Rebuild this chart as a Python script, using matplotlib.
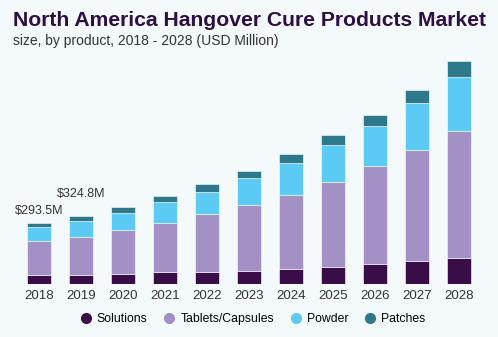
import matplotlib
matplotlib.use("Agg")
import matplotlib.pyplot as plt
from matplotlib.lines import Line2D

years = ["2018", "2019", "2020", "2021", "2022", "2023", "2024", "2025", "2026", "2027", "2028"]
solutions = [43.0, 41.8, 47.8, 56.0, 56.0, 62.0, 71.7, 83.0, 94.0, 110.0, 123.0]
tablets = [164.0, 184.5, 209.0, 234.0, 278.7, 315.5, 355.0, 406.0, 468.4, 532.0, 607.0]
powder = [67.0, 76.5, 82.8, 103.0, 106.6, 127.6, 153.0, 177.0, 192.8, 224.7, 261.0]
patches = [19.5, 22.0, 28.7, 27.0, 35.0, 36.4, 41.6, 46.0, 54.0, 60.6, 75.0]
series_names = ["Solutions", "Tablets/Capsules", "Powder", "Patches"]
colors = ["#390D48", "#A390C4", "#5BCBF6", "#2E788B"]
value_labels = {0: "$293.5M", 1: "$324.8M"}
label_offsets = {0: 12, 1: 22}

bg = "#F4F9FC"
fig = plt.figure(figsize=(4.98, 3.37), dpi=100, facecolor=bg)
ax = fig.add_axes([0.0147, 0.157, 0.970, 0.714])
ax.set_facecolor(bg)

x = list(range(len(years)))
bottom = [0.0] * len(years)
for vals, col in zip([solutions, tablets, powder, patches], colors):
    ax.bar(x, vals, width=0.58, bottom=bottom, color=col,
           edgecolor="white", linewidth=0.4)
    bottom = [b + v for b, v in zip(bottom, vals)]

for i, txt in value_labels.items():
    ax.annotate(txt, (x[i], bottom[i]), xytext=(0, label_offsets[i]),
                textcoords="offset pixels", ha="center", va="center",
                fontsize=9, color="#333333", family="Liberation Sans")

ax.set_xlim(-0.75, 10.75)
ax.set_ylim(0, 1150)
ax.set_xticks(x)
ax.set_xticklabels(years, fontsize=9.5, color="#333333", family="Liberation Sans")
ax.tick_params(axis="x", length=0, pad=4)
ax.set_yticks([])
for s in ax.spines.values():
    s.set_visible(False)

fig.text(0.026, 0.938, "North America Hangover Cure Products Market",
         fontsize=15.2, fontweight="bold", color="#2D0E45",
         family="Liberation Sans", va="center", ha="left")
fig.text(0.026, 0.878, "size, by product, 2018 - 2028 (USD Million)",
         fontsize=10, color="#333333", family="Liberation Sans",
         va="center", ha="left")

handles = [Line2D([], [], marker="o", linestyle="", markersize=7,
                  markerfacecolor=c, markeredgecolor=c) for c in colors]
fig.legend(handles, series_names, loc="center", bbox_to_anchor=(0.506, 0.053),
           ncol=4, frameon=False, handletextpad=0.3, handlelength=1.2,
           columnspacing=1.2, prop={"family": "Liberation Sans", "size": 8.8})

fig.savefig("out.png", dpi=100, facecolor=bg)
